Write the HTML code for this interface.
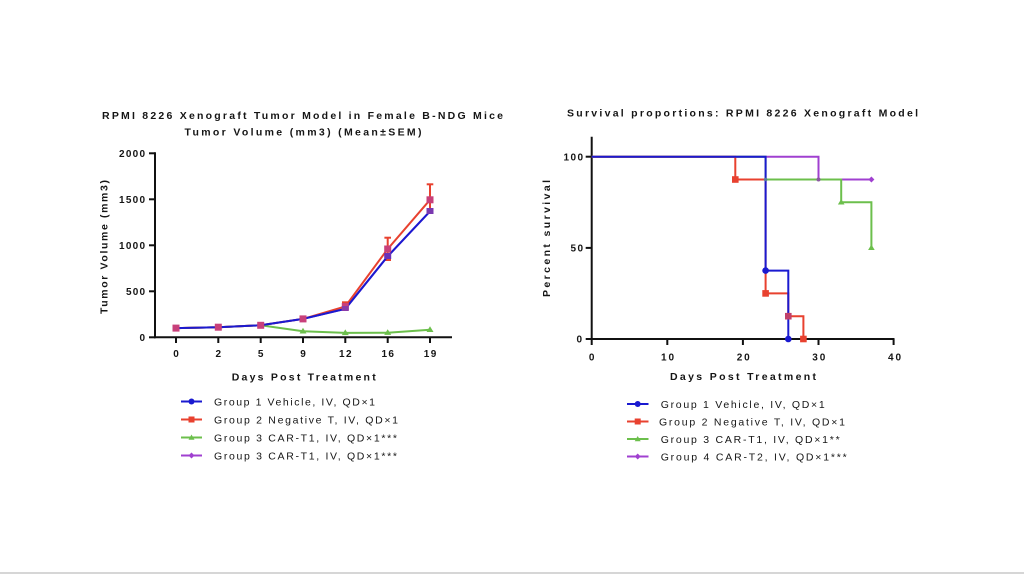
<!DOCTYPE html>
<html><head><meta charset="utf-8"><style>
html,body{margin:0;padding:0;background:#fff;width:1024px;height:574px;overflow:hidden}
svg{display:block}
text{font-family:"Liberation Sans",Arial,sans-serif;fill:#151515}
.b{font-weight:bold}
</style></head><body>
<svg width="1024" height="574" viewBox="0 0 1024 574" xmlns="http://www.w3.org/2000/svg">
<rect x="0" y="0" width="1024" height="574" fill="#fff"/>
<rect x="0" y="572" width="1024" height="2" fill="#d6d6d6"/>

<!-- LEFT CHART -->
<text class="b" x="302.5" y="118.8" font-size="10.5" text-anchor="middle" textLength="401" lengthAdjust="spacing">RPMI 8226 Xenograft Tumor Model in Female B-NDG Mice</text>
<text class="b" x="303" y="135.3" font-size="10.5" text-anchor="middle" textLength="237" lengthAdjust="spacing">Tumor Volume (mm3) (Mean±SEM)</text>

<g stroke="#111" stroke-width="2" fill="none">
<line x1="155" y1="152.3" x2="155" y2="338.3"/>
<line x1="154" y1="337.3" x2="452" y2="337.3"/>
<line x1="149" y1="153.3" x2="155" y2="153.3"/>
<line x1="149" y1="199.3" x2="155" y2="199.3"/>
<line x1="149" y1="245.3" x2="155" y2="245.3"/>
<line x1="149" y1="291.3" x2="155" y2="291.3"/>
<line x1="149" y1="337.3" x2="155" y2="337.3"/>
<line x1="176" y1="337" x2="176" y2="343"/>
<line x1="218.3" y1="337" x2="218.3" y2="343"/>
<line x1="260.7" y1="337" x2="260.7" y2="343"/>
<line x1="303" y1="337" x2="303" y2="343"/>
<line x1="345.3" y1="337" x2="345.3" y2="343"/>
<line x1="387.7" y1="337" x2="387.7" y2="343"/>
<line x1="430" y1="337" x2="430" y2="343"/>
</g>
<g font-size="10" text-anchor="end">
<text class="b" x="145" y="156.8" textLength="26" lengthAdjust="spacing">2000</text>
<text class="b" x="145" y="202.8" textLength="26" lengthAdjust="spacing">1500</text>
<text class="b" x="145" y="248.8" textLength="26" lengthAdjust="spacing">1000</text>
<text class="b" x="145" y="294.8" textLength="19" lengthAdjust="spacing">500</text>
<text class="b" x="145" y="340.8">0</text>
</g>
<g font-size="10" text-anchor="middle">
<text class="b" x="176" y="357">0</text>
<text class="b" x="218.3" y="357">2</text>
<text class="b" x="260.7" y="357">5</text>
<text class="b" x="303" y="357">9</text>
<text class="b" x="345.3" y="357" textLength="12.5" lengthAdjust="spacing">12</text>
<text class="b" x="387.7" y="357" textLength="12.5" lengthAdjust="spacing">16</text>
<text class="b" x="430" y="357" textLength="12.5" lengthAdjust="spacing">19</text>
</g>
<text class="b" x="303.7" y="380.5" font-size="10.5" text-anchor="middle" textLength="144" lengthAdjust="spacing">Days Post Treatment</text>
<text class="b" transform="translate(107.5,247) rotate(-90)" x="0" y="0" font-size="10.5" text-anchor="middle" textLength="134" lengthAdjust="spacing">Tumor Volume (mm3)</text>

<!-- series -->
<polyline fill="none" stroke="#a040d0" stroke-width="2" points="176,328.1 218.3,327.2 260.7,325.3 303,318.9 345.3,308.8 387.7,256.3 430,211.3"/>
<polyline fill="none" stroke="#6cbf4c" stroke-width="2" points="176,328.1 218.3,327.2 260.7,325.3 303,331.3 345.3,332.9 387.7,332.7 430,329.8"/>
<g fill="#6cbf4c">
<polygon points="303,327.8 306.5,333.5 299.5,333.5"/>
<polygon points="345.3,329.4 348.8,335.1 341.8,335.1"/>
<polygon points="387.7,329.2 391.2,334.9 384.2,334.9"/>
<polygon points="430,326.3 433.5,332 426.5,332"/>
</g>
<g stroke="#e8412f" stroke-width="2" fill="none">
<polyline points="176,328.1 218.3,327.2 260.7,325.3 303,318.9 345.3,306.5 387.7,249 430,199.8"/>
<line x1="345.3" y1="302.3" x2="345.3" y2="310.6"/><line x1="342" y1="302.3" x2="348.6" y2="302.3"/>
<line x1="387.7" y1="237.7" x2="387.7" y2="260"/><line x1="384.4" y1="237.7" x2="391" y2="237.7"/><line x1="384.4" y1="260" x2="391" y2="260"/>
<line x1="430" y1="184.3" x2="430" y2="214"/><line x1="426.7" y1="184.3" x2="433.3" y2="184.3"/>
</g>
<polyline fill="none" stroke="#1a1ad0" stroke-width="2" points="176,328.1 218.3,327.2 260.7,325.3 303,318.9 345.3,308.8 387.7,256.3 430,211.3"/>
<g fill="#c8407a">
<rect x="172.5" y="324.6" width="7" height="7"/>
<rect x="214.8" y="323.7" width="7" height="7"/>
<rect x="257.2" y="321.8" width="7" height="7"/>
<rect x="299.5" y="315.4" width="7" height="7"/>
<rect x="341.8" y="303" width="7" height="7"/>
<rect x="384.2" y="245.5" width="7" height="7"/>
<rect x="426.5" y="196.3" width="7" height="7"/>
<rect x="341.8" y="306" width="7" height="5" fill="#8a3aa8"/>
<rect x="384.2" y="253" width="7" height="6" fill="#6a30b8"/>
<rect x="426.5" y="208" width="7" height="6" fill="#7a38b0"/>
</g>

<!-- left legend -->
<g stroke-width="2">
<line x1="181" y1="401.5" x2="202" y2="401.5" stroke="#1a1ad0"/>
<line x1="181" y1="419.5" x2="202" y2="419.5" stroke="#e8412f"/>
<line x1="181" y1="437.5" x2="202" y2="437.5" stroke="#6cbf4c"/>
<line x1="181" y1="455.5" x2="202" y2="455.5" stroke="#a040d0"/>
</g>
<circle cx="191.5" cy="401.5" r="3" fill="#1a1ad0"/>
<rect x="188.5" y="416.5" width="6" height="6" fill="#e8412f"/>
<polygon points="191.5,434.5 194.5,439.7 188.5,439.7" fill="#6cbf4c"/>
<polygon points="191.5,452.5 194.5,455.5 191.5,458.5 188.5,455.5" fill="#a040d0"/>
<g font-size="10.5">
<text x="214" y="405.3" textLength="161" lengthAdjust="spacing">Group 1 Vehicle, IV, QD×1</text>
<text x="214" y="423.3" textLength="184" lengthAdjust="spacing">Group 2 Negative T, IV, QD×1</text>
<text x="214" y="441.3" textLength="183" lengthAdjust="spacing">Group 3 CAR-T1, IV, QD×1***</text>
<text x="214" y="459.3" textLength="183" lengthAdjust="spacing">Group 3 CAR-T1, IV, QD×1***</text>
</g>

<!-- RIGHT CHART -->
<text class="b" x="742.5" y="116.3" font-size="10.5" text-anchor="middle" textLength="351" lengthAdjust="spacing">Survival proportions: RPMI 8226 Xenograft Model</text>
<g stroke="#111" stroke-width="2" fill="none">
<line x1="591.7" y1="136.7" x2="591.7" y2="340"/>
<line x1="590.7" y1="339" x2="894.5" y2="339"/>
<line x1="585.7" y1="156.7" x2="591.7" y2="156.7"/>
<line x1="585.7" y1="247.9" x2="591.7" y2="247.9"/>
<line x1="585.7" y1="339" x2="591.7" y2="339"/>
<line x1="591.7" y1="339" x2="591.7" y2="345"/>
<line x1="667.3" y1="339" x2="667.3" y2="345"/>
<line x1="742.9" y1="339" x2="742.9" y2="345"/>
<line x1="818.5" y1="339" x2="818.5" y2="345"/>
<line x1="893.6" y1="339" x2="893.6" y2="345"/>
</g>
<g font-size="10" text-anchor="end">
<text class="b" x="583" y="160.3" textLength="19.5" lengthAdjust="spacing">100</text>
<text class="b" x="583" y="251.5" textLength="12.5" lengthAdjust="spacing">50</text>
<text class="b" x="582" y="342.6">0</text>
</g>
<g font-size="10" text-anchor="middle">
<text class="b" x="591.7" y="360.5">0</text>
<text class="b" x="667.5" y="360.5" textLength="13" lengthAdjust="spacing">10</text>
<text class="b" x="743.2" y="360.5" textLength="13" lengthAdjust="spacing">20</text>
<text class="b" x="818.8" y="360.5" textLength="13" lengthAdjust="spacing">30</text>
<text class="b" x="894.5" y="360.5" textLength="13" lengthAdjust="spacing">40</text>
</g>
<text class="b" x="743" y="379.8" font-size="10.5" text-anchor="middle" textLength="146" lengthAdjust="spacing">Days Post Treatment</text>
<text class="b" transform="translate(550,238.5) rotate(-90)" x="0" y="0" font-size="10.5" text-anchor="middle" textLength="117" lengthAdjust="spacing">Percent survival</text>

<!-- survival series -->
<polyline fill="none" stroke="#a040d0" stroke-width="2" points="591.7,156.7 818.5,156.7 818.5,179.5 871.4,179.5"/>
<polyline fill="none" stroke="#6cbf4c" stroke-width="2" points="591.7,156.7 765.6,156.7 765.6,179.5 841.2,179.5 841.2,202.3 871.4,202.3 871.4,247.9"/>
<polyline fill="none" stroke="#e8412f" stroke-width="2" points="591.7,156.7 735.3,156.7 735.3,179.5 765.6,179.5 765.6,293.4 788.3,293.4 788.3,316.2 803.4,316.2 803.4,339"/>
<polyline fill="none" stroke="#1a1ad0" stroke-width="2" points="591.7,156.7 765.6,156.7 765.6,270.6 788.3,270.6 788.3,339"/>
<circle cx="818.5" cy="179.5" r="2" fill="#8a5aa0"/>
<polygon points="871.4,176.5 874.4,179.5 871.4,182.5 868.4,179.5" fill="#a040d0"/>
<circle cx="765.6" cy="179.5" r="1.8" fill="#5a7a9a"/>
<polygon points="841.2,199 844.5,204.5 837.9,204.5" fill="#6cbf4c"/>
<polygon points="871.4,244.5 874.7,250 868.1,250" fill="#6cbf4c"/>
<rect x="732" y="176.2" width="6.6" height="6.6" fill="#e8412f"/>
<rect x="762.3" y="290.1" width="6.6" height="6.6" fill="#e8412f"/>
<rect x="785" y="312.9" width="6.6" height="6.6" fill="#c0406a"/>
<rect x="800.1" y="335.7" width="6.6" height="6.6" fill="#e8412f"/>
<circle cx="765.6" cy="270.6" r="3.3" fill="#1a1ad0"/>
<circle cx="788.3" cy="339" r="3.3" fill="#1a1ad0"/>

<!-- right legend -->
<g stroke-width="2">
<line x1="627" y1="404" x2="648.5" y2="404" stroke="#1a1ad0"/>
<line x1="627" y1="421.5" x2="648.5" y2="421.5" stroke="#e8412f"/>
<line x1="627" y1="439" x2="648.5" y2="439" stroke="#6cbf4c"/>
<line x1="627" y1="456.5" x2="648.5" y2="456.5" stroke="#a040d0"/>
</g>
<circle cx="637.7" cy="404" r="3" fill="#1a1ad0"/>
<rect x="634.7" y="418.5" width="6" height="6" fill="#e8412f"/>
<polygon points="637.7,436 640.7,441.2 634.7,441.2" fill="#6cbf4c"/>
<polygon points="637.7,453.5 640.7,456.5 637.7,459.5 634.7,456.5" fill="#a040d0"/>
<g font-size="10.5">
<text x="660.7" y="407.8" textLength="164" lengthAdjust="spacing">Group 1 Vehicle, IV, QD×1</text>
<text x="659" y="425.3" textLength="186" lengthAdjust="spacing">Group 2 Negative T, IV, QD×1</text>
<text x="660.7" y="442.8" textLength="179" lengthAdjust="spacing">Group 3 CAR-T1, IV, QD×1**</text>
<text x="660.7" y="460.3" textLength="186" lengthAdjust="spacing">Group 4 CAR-T2, IV, QD×1***</text>
</g>
</svg>
</body></html>
